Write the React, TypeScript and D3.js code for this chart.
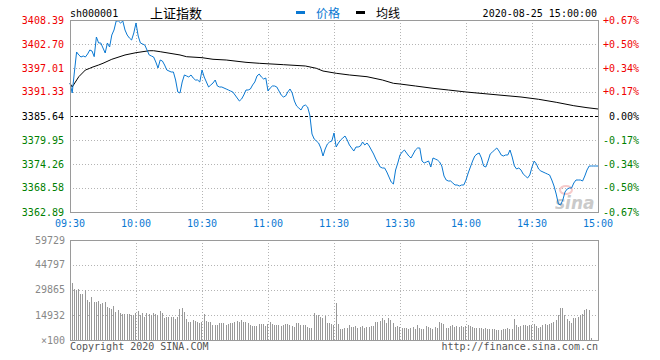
import React from "react";
import * as d3 from "d3";

// ---------- DATA ----------
const priceTicks = [3408.39, 3402.7, 3397.01, 3391.33, 3385.64, 3379.95, 3374.26, 3368.58, 3362.89];
const pctTicks = ["+0.67%", "+0.50%", "+0.34%", "+0.17%", "0.00%", "-0.17%", "-0.34%", "-0.50%", "-0.67%"];
const timeLabels = ["09:30", "10:00", "10:30", "11:00", "11:30", "13:30", "14:00", "14:30", "15:00"];
const timeTickMinutes = [0, 30, 60, 90, 120, 150, 180, 210, 240];
const volTicks = [59729, 44797, 29865, 14932];
const prevClose = 3385.64;

// price per minute (index 0 = 09:30, 120 = 11:30/13:00, 240 = 15:00)
const prices = [
  3393.46, 3391.09, 3396.07, 3400.81, 3400.10, 3399.62, 3399.86, 3399.62, 3400.33, 3401.28,
  3401.04, 3399.70, 3404.36, 3402.94, 3402.94, 3401.75, 3400.57, 3402.94, 3401.99, 3404.83,
  3406.02, 3408.15, 3408.15, 3407.68, 3408.15, 3406.02, 3404.83, 3404.12, 3403.65, 3405.31,
  3407.68, 3404.60, 3402.94, 3402.70, 3402.46, 3401.28, 3400.10, 3399.86, 3399.62, 3398.44,
  3397.01, 3398.91, 3398.67, 3397.72, 3396.54, 3396.30, 3396.07, 3396.07, 3394.17, 3391.33,
  3391.09, 3393.70, 3395.36, 3395.12, 3394.88, 3395.36, 3394.64, 3394.17, 3394.17, 3393.70,
  3396.54, 3394.88, 3393.70, 3392.51, 3392.99, 3393.46, 3394.17, 3392.75, 3392.51, 3392.51,
  3392.27, 3392.04, 3391.80, 3391.56, 3391.33, 3390.62, 3389.90, 3389.19, 3389.67, 3390.62,
  3391.80, 3391.80, 3392.04, 3392.99, 3393.70, 3395.12, 3395.59, 3394.88, 3394.41, 3394.64,
  3391.56, 3392.27, 3392.75, 3392.75, 3392.51, 3391.56, 3390.62, 3390.14, 3390.38, 3391.33,
  3392.04, 3391.09, 3389.19, 3388.01, 3387.53, 3387.06, 3388.01, 3388.24, 3387.77, 3385.87,
  3381.37, 3380.19, 3379.71, 3379.24, 3378.06, 3376.16, 3377.82, 3379.00, 3379.48, 3379.71,
  3381.61, 3378.29, 3379.24, 3379.95, 3380.42, 3380.90, 3379.95, 3378.77, 3378.06, 3377.34,
  3378.29, 3378.29, 3378.53, 3379.48, 3378.77, 3379.24, 3378.53, 3377.58, 3376.63, 3375.45,
  3374.50, 3373.55, 3373.32, 3373.32, 3372.37, 3371.18, 3370.00, 3369.52, 3372.84, 3374.50,
  3376.40, 3377.11, 3377.58, 3376.87, 3376.16, 3375.69, 3376.63, 3377.58, 3378.06, 3378.06,
  3374.97, 3374.50, 3374.74, 3374.97, 3373.55, 3375.69, 3375.45, 3375.21, 3374.74, 3373.79,
  3371.42, 3370.47, 3370.24, 3370.24, 3369.76, 3369.29, 3369.29, 3369.05, 3369.29, 3369.29,
  3370.47, 3372.13, 3373.55, 3374.97, 3376.16, 3376.63, 3376.87, 3375.69, 3373.79, 3373.55,
  3374.97, 3376.63, 3377.11, 3377.58, 3378.06, 3377.34, 3376.40, 3376.16, 3376.40, 3376.40,
  3377.58, 3375.92, 3373.79, 3373.08, 3373.32, 3372.84, 3371.89, 3371.42, 3370.95, 3371.66,
  3373.55, 3374.97, 3374.26, 3373.08, 3372.61, 3372.37, 3372.13, 3371.89, 3371.66, 3370.47,
  3369.05, 3367.15, 3364.78, 3364.55, 3365.73, 3367.63, 3368.34, 3368.58, 3368.58, 3369.76,
  3370.47, 3370.47, 3370.47, 3370.24, 3371.42, 3372.84, 3373.79, 3373.79, 3373.79, 3373.79,
  3373.79,
];

const avgMinutes = [0, 1, 4, 7, 9, 10, 13, 15, 19, 25, 30, 36, 38, 41, 50, 53, 60, 65, 71, 80, 86, 97, 107, 112, 115, 121, 127, 135, 142, 147, 150, 157, 165, 172, 180, 195, 205, 213, 221, 229, 235, 240];
const avgPrices = [3393.39, 3392.51, 3394.95, 3396.54, 3396.94, 3397.18, 3397.72, 3398.13, 3399.08, 3400.10, 3400.64, 3401.11, 3401.11, 3400.88, 3400.10, 3399.69, 3399.46, 3399.08, 3398.91, 3398.36, 3398.13, 3397.80, 3397.49, 3396.94, 3396.30, 3395.76, 3395.36, 3394.95, 3394.17, 3393.39, 3393.22, 3392.75, 3392.20, 3391.80, 3391.33, 3390.61, 3390.14, 3389.60, 3388.89, 3388.08, 3387.61, 3387.30];

// volume per minute (x100 shares)
const volumes = [
  34200, 30300, 29900, 30500, 27500, 27500, 29900, 23900, 22500, 25900,
  22900, 22900, 23300, 21300, 21900, 22700, 19500, 18900, 18700, 20300,
  16900, 17900, 15900, 15300, 15300, 15300, 15300, 14900, 14900, 16300,
  17300, 14900, 15900, 13900, 15900, 15300, 14900, 15900, 15300, 14900,
  17300, 15900, 13300, 13900, 13500, 13500, 13900, 12400, 13500, 18500,
  19300, 16500, 12400, 10900, 10900, 11900, 11300, 10900, 10000, 10900,
  15300, 11500, 10900, 10900, 9000, 9000, 9000, 10000, 10300, 10000,
  9000, 9400, 10000, 10300, 10900, 11500, 10900, 11900, 10600, 10600,
  10300, 9000, 8400, 8400, 8400, 9600, 9600, 9600, 8400, 9600,
  10800, 9600, 9000, 9000, 9000, 8400, 9000, 9600, 9600, 9000,
  8400, 7600, 10000, 10000, 9000, 9000, 9000, 7600, 7000, 7000,
  15900, 14900, 14900, 13500, 13000, 14300, 10300, 10000, 9600, 9000,
  22300, 9600, 6600, 6600, 7000, 7300, 9000, 7600, 7900, 8500,
  7300, 7900, 8400, 7300, 7600, 7900, 8500, 8500, 10800, 10900,
  11500, 13100, 11900, 10300, 13000, 11900, 10000, 7900, 8400, 7900,
  7300, 7000, 7300, 6400, 7300, 7600, 6600, 9000, 7300, 6400,
  6600, 8400, 7900, 7000, 6400, 7900, 7300, 10600, 10300, 9600,
  7300, 7300, 8500, 9000, 7900, 8400, 7900, 8400, 7900, 8400,
  9000, 8400, 7800, 7000, 7000, 7000, 7000, 6400, 7000, 6600,
  6600, 6400, 6400, 6000, 6000, 6000, 6400, 6600, 7000, 6400,
  6600, 12400, 9000, 7900, 8400, 9000, 9000, 8500, 9000, 9000,
  9600, 8400, 7300, 7900, 9000, 9600, 9000, 9600, 10000, 10900,
  11900, 14900, 18900, 18900, 14900, 12400, 11300, 10300, 13000, 13000,
  13700, 14900, 15300, 17700, 18300, 17900, 1000,
];

// ---------- LAYOUT ----------
const W = 660;
const H = 360;
const L = 70;
const R = 598;
const PT = 20;
const PB = 212;
const VT = 240;
const VB = 340;

const MONO = "'DejaVu Sans Mono', 'Liberation Mono', monospace";
const CJK = "'Noto Sans CJK SC', sans-serif";
const BLUE = "#0a78d2";
const GRID = "#b4b4b4";
const BORDER = "#9a9a9a";

export default function App() {
  const x = d3.scaleLinear().domain([0, 240]).range([L, R]);
  const y = d3.scaleLinear().domain([priceTicks[8], priceTicks[0]]).range([PB, PT]);
  const yv = d3.scaleLinear().domain([0, volTicks[0]]).range([VB, VT]);

  const priceLine = d3
    .line<number>()
    .x((_, i) => x(i))
    .y((d) => y(d))
    .curve(d3.curveLinear);
  const avgLine = d3
    .line<number>()
    .x((_, i) => x(avgMinutes[i]))
    .y((d) => y(d));

  const labelColor = (v: number) => (v > prevClose + 0.001 ? "#f00000" : v < prevClose - 0.001 ? "#008000" : "#000");

  return (
    <svg
      width={W}
      height={H}
      style={{ position: "absolute", left: 0, top: 0, background: "#fff" }}
      shapeRendering="crispEdges"
    >
      <rect x={0} y={0} width={W} height={H} fill="#fff" />

      {/* header */}
      <text x={70} y={17} fontFamily={MONO} fontSize={10} fill="#000">sh000001</text>
      <text x={150} y={18} fontFamily={CJK} fontSize={13} fill="#000">上证指数</text>
      <rect x={296} y={11} width={9} height={3} fill={BLUE} />
      <text x={316} y={18} fontFamily={CJK} fontSize={12} fill={BLUE}>价格</text>
      <rect x={356} y={11} width={9} height={3} fill="#000" />
      <text x={376} y={18} fontFamily={CJK} fontSize={12} fill="#000">均线</text>
      <text x={597} y={17} textAnchor="end" fontFamily={MONO} fontSize={10} fill="#000">2020-08-25 15:00:00</text>

      {/* price grid */}
      {priceTicks.slice(1, 8).map((p) =>
        p === prevClose ? null : (
          <line key={"hg" + p} x1={L} x2={R} y1={Math.round(y(p)) + 0.5} y2={Math.round(y(p)) + 0.5} stroke={GRID} strokeDasharray="1,2" />
        )
      )}
      {timeTickMinutes.slice(1, 8).map((m) => (
        <line key={"vg" + m} x1={Math.round(x(m)) + 0.5} x2={Math.round(x(m)) + 0.5} y1={PT} y2={PB} stroke={GRID} strokeDasharray="1,2" />
      ))}
      <line x1={L} x2={R} y1={Math.round(y(prevClose)) + 0.5} y2={Math.round(y(prevClose)) + 0.5} stroke="#000" strokeDasharray="3,2" />

      {/* price axes labels */}
      {priceTicks.map((p) => (
        <text key={"pl" + p} x={64} y={y(p) + 3.5} textAnchor="end" fontFamily={MONO} fontSize={10} fill={labelColor(p)}>
          {p.toFixed(2)}
        </text>
      ))}
      {pctTicks.map((t, i) => (
        <text key={"pr" + t} x={639} y={y(priceTicks[i]) + 3.5} textAnchor="end" fontFamily={MONO} fontSize={10} fill={labelColor(priceTicks[i])}>
          {t}
        </text>
      ))}

      {/* watermark */}
      <g opacity={0.55}>
        <ellipse cx={566} cy={190} rx={6} ry={4} fill="none" stroke="#f0a0a0" strokeWidth={2} shapeRendering="auto" />
        <text x={555} y={209} fontFamily="'DejaVu Sans', sans-serif" fontStyle="italic" fontWeight="bold" fontSize={17} fill="#a0a0a0" shapeRendering="auto">sina</text>
      </g>

      {/* lines */}
      <path d={avgLine(avgPrices) || ""} fill="none" stroke="#000" strokeWidth={1} shapeRendering="auto" />
      <path d={priceLine(prices) || ""} fill="none" stroke={BLUE} strokeWidth={1} shapeRendering="auto" />

      {/* price frame */}
      <rect x={L + 0.5} y={PT + 0.5} width={R - L} height={PB - PT} fill="none" stroke={BORDER} />

      {/* time labels */}
      {timeLabels.map((t, i) => (
        <text key={"t" + t} x={x(timeTickMinutes[i])} y={227} textAnchor="middle" fontFamily={MONO} fontSize={10} fill={BLUE}>
          {t}
        </text>
      ))}

      {/* volume grid */}
      {volTicks.slice(1).map((v) => (
        <line key={"vh" + v} x1={L} x2={R} y1={Math.round(yv(v)) + 0.5} y2={Math.round(yv(v)) + 0.5} stroke={GRID} strokeDasharray="1,2" />
      ))}
      {timeTickMinutes.slice(1, 8).map((m) => (
        <line key={"vv" + m} x1={Math.round(x(m)) + 0.5} x2={Math.round(x(m)) + 0.5} y1={VT} y2={VB} stroke={GRID} strokeDasharray="1,2" />
      ))}

      {/* volume bars */}
      {volumes.map((v, i) => (
        <line
          key={"vb" + i}
          x1={Math.round(x(i) + 1.5) + 0.5}
          x2={Math.round(x(i) + 1.5) + 0.5}
          y1={VB}
          y2={Math.round(yv(v))}
          stroke="#999"
        />
      ))}

      {/* volume frame */}
      <rect x={L + 0.5} y={VT + 0.5} width={R - L} height={VB - VT} fill="none" stroke={BORDER} />

      {/* volume labels */}
      {volTicks.map((v) => (
        <text key={"vl" + v} x={65} y={yv(v) + 3.5} textAnchor="end" fontFamily={MONO} fontSize={10} fill="#888">
          {v}
        </text>
      ))}
      <text x={65} y={yv(0) + 3.5} textAnchor="end" fontFamily={MONO} fontSize={10} fill="#888">×100</text>

      {/* footer */}
      <text x={70} y={350} fontFamily={MONO} fontSize={10} fill="#555">Copyright 2020 SINA.COM</text>
      <text x={598} y={350} textAnchor="end" fontFamily={MONO} fontSize={10} fill="#555">http://finance.sina.com.cn</text>
    </svg>
  );
}
